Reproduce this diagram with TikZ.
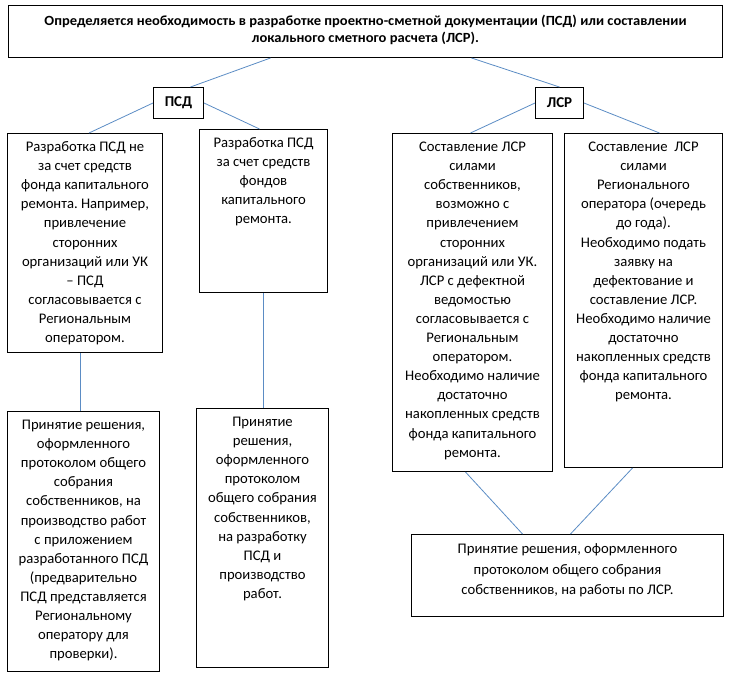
\documentclass[tikz,border=0pt]{standalone}
\usepackage{fontspec}
\setmainfont{Carlito}
\frenchspacing
\begin{document}
\begin{tikzpicture}[x=1pt,y=-1pt,
  box/.style={draw=black,line width=1pt,inner sep=0pt,anchor=north west},
  txt/.style={inner sep=0pt,anchor=north,align=center,yshift=-5pt,
    font=\fontsize{14.67}{19.1}\selectfont},
  lbl/.style={inner sep=0pt,font=\fontsize{15}{17}\selectfont\bfseries},
  link/.style={draw={rgb,255:red,91;green,140;blue,196},line width=0.8pt}]
\useasboundingbox (0,0) rectangle (729,675);
% boxes
\node[box,minimum width=714pt,minimum height=52pt] (top) at (8,5) {};
\node[box,minimum width=50pt,minimum height=31pt] (psd) at (153,87) {};
\node[box,minimum width=48pt,minimum height=31pt] (lsr) at (535,87) {};
\node[box,minimum width=155pt,minimum height=219pt] (A) at (7,133) {};
\node[box,minimum width=128pt,minimum height=163pt] (B) at (199,129) {};
\node[box,minimum width=152pt,minimum height=260pt] (C) at (7,411) {};
\node[box,minimum width=132pt,minimum height=259pt] (D) at (196,408) {};
\node[box,minimum width=160pt,minimum height=338pt] (E) at (392,133) {};
\node[box,minimum width=158pt,minimum height=334pt] (F) at (564,133) {};
\node[box,minimum width=312pt,minimum height=82pt] (G) at (411,534) {};
% texts
\node[inner sep=0pt,align=center,font=\fontsize{14}{17}\selectfont\bfseries] (toptxt) at ([yshift=2pt]top.center) {\scalebox{1.04}[1]{Определяется необходимость в разработке проектно-сметной документации (ПСД) или составлении}\\\scalebox{1.04}[1]{локального сметного расчета (ЛСР).}};
\node[lbl] (psdtxt) at (psd.center) {ПСД};
\node[lbl] (lsrtxt) at (lsr.center) {ЛСР};
\node[txt] (At) at (A.north) {\strut Разработка ПСД не\\за счет средств\\фонда капитального\\ремонта. Например,\\привлечение\\сторонних\\организаций или УК\\– ПСД\\согласовывается с\\Региональным\\оператором.};
\node[txt] (Bt) at (B.north) {\strut Разработка ПСД\\за счет средств\\фондов\\капитального\\ремонта.};
\node[txt] (Ct) at (C.north) {\strut Принятие решения,\\оформленного\\протоколом общего\\собрания\\собственников, на\\производство работ\\с приложением\\разработанного ПСД\\(предварительно\\ПСД представляется\\Региональному\\оператору для\\проверки).};
\node[txt] (Dt) at (D.north) {\strut Принятие\\решения,\\оформленного\\протоколом\\общего собрания\\собственников,\\на разработку\\ПСД и\\производство\\работ.};
\node[txt] (Et) at (E.north) {\strut Составление ЛСР\\силами\\собственников,\\возможно с\\привлечением\\сторонних\\организаций или УК.\\ЛСР с дефектной\\ведомостью\\согласовывается с\\Региональным\\оператором.\\Необходимо наличие\\достаточно\\накопленных средств\\фонда капитального\\ремонта.};
\node[txt] (Ft) at (F.north) {\strut Составление\ \ ЛСР\\силами\\Регионального\\оператора (очередь\\до года).\\Необходимо подать\\заявку на\\дефектование и\\составление ЛСР.\\Необходимо наличие\\достаточно\\накопленных средств\\фонда капитального\\ремонта.};
\node[txt,font=\fontsize{14.67}{20.5}\selectfont] (Gt) at (G.north) {\strut Принятие решения, оформленного\\протоколом общего собрания\\собственников, на работы по ЛСР.};
% connectors
\draw[link] ([xshift=-95pt]top.south) -- ([xshift=12pt]psd.north);
\draw[link] ([xshift=106pt]top.south) -- (lsr.north);
\draw[link] (psd.west) -- ([xshift=4pt]A.north);
\draw[link] (psd.east) -- ([xshift=-4pt]B.north);
\draw[link] (lsr.west) -- ([xshift=-2pt]E.north);
\draw[link] (lsr.east) -- ([xshift=16pt]F.north);
\draw[link] ([xshift=-5pt]A.south) -- ([xshift=-5pt]A.south |- C.north);
\draw[link] (B.south) -- (B.south |- D.north);
\draw[link] ([xshift=-7pt]E.south) -- ([xshift=-45pt]G.north);
\draw[link] ([xshift=-11pt]F.south) -- ([xshift=3pt]G.north);
\end{tikzpicture}
\end{document}
